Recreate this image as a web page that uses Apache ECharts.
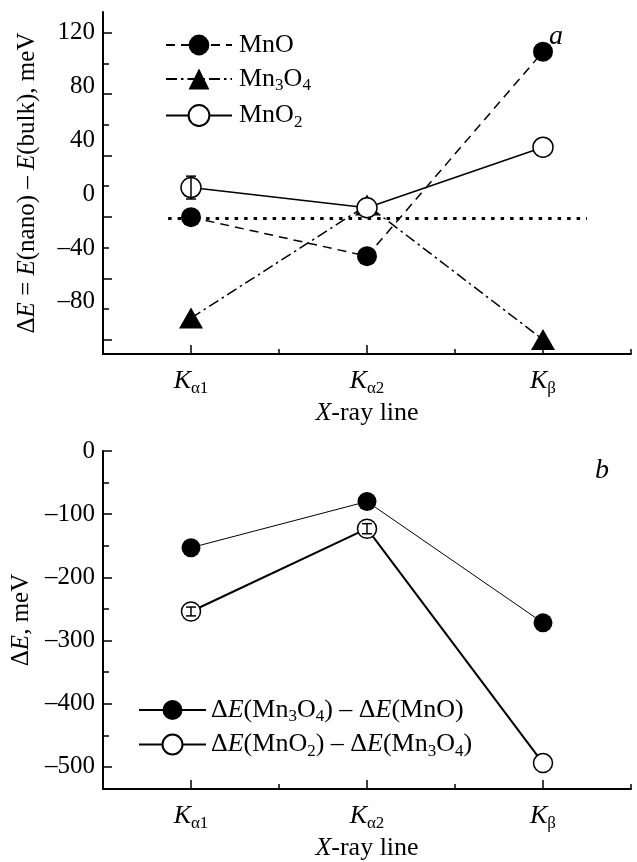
<!DOCTYPE html>
<html>
<head>
<meta charset="utf-8">
<script src="https://cdn.jsdelivr.net/npm/echarts@6/dist/echarts.min.js"></script>
<style>
  html, body { margin: 0; padding: 0; background: #fff; }
  #chart { width: 637px; height: 862px; }
</style>
</head>
<body>
<div id="chart"></div>
<script>
// X-ray lines (subscripts of K)
const lines = ['α1', 'α2', 'β'];
const xPos = [1, 2, 3];

// panel a: dE = E(nano) - E(bulk), meV
const mnoA = [-17, -46, 106];
const mn3o4A = [-92, -8, -108];
const mno2A = [5, -10, 35];
const mno2AErr = [8.5, 0, 0];
const refLevel = -18;
const refSpan = [0.87, 3.25];

// panel b: differences, meV
const diff1 = [-153, -80, -272]; // dE(Mn3O4) - dE(MnO)
const diff2 = [-254, -123, -494]; // dE(MnO2) - dE(Mn3O4)
const diff2Err = [7, 8, 0];

// axis labels / ticks
const aLabels = [-80, -40, 0, 40, 80, 120];
const aTicksLong = [120, 74.4, 28.8, -16.8, -62.4, -108];
const aTicksShort = [97.2, 51.6, 6, -39.6, -85.2];
const bLabels = [0, -100, -200, -300, -400, -500];
const bTicksShort = [-50, -150, -250, -350, -450];
const xTicksLong = [1, 2, 3];
const xTicksShort = [1.5, 2.5, 3.5];

const FONT = '"Liberation Serif", "DejaVu Serif", serif';
const rich = {
  n: { fontFamily: FONT, fontSize: 26, color: '#000' },
  i: { fontFamily: FONT, fontSize: 26, color: '#000', fontStyle: 'italic' },
  s: { fontFamily: FONT, fontSize: 17, color: '#000', padding: [14, 0, 0, 0] }
};
const richTitle = {
  n: { fontFamily: FONT, fontSize: 25, color: '#000' },
  i: { fontFamily: FONT, fontSize: 25, color: '#000', fontStyle: 'italic' }
};

const pairs = (vals) => vals.map((v, i) => [xPos[i], v]);
const errPairs = (vals, err) => vals.map((v, i) => [xPos[i], v, err[i]]).filter(d => d[2] > 0);
const minus = v => (v < 0 ? '–' + Math.abs(v) : '' + v);

const legendText = {
  'MnO': '{n|MnO}',
  'Mn3O4': '{n|Mn}{s|3}{n|O}{s|4}',
  'MnO2': '{n|MnO}{s|2}',
  'd1': '{n|Δ}{i|E}{n|(Mn}{s|3}{n|O}{s|4}{n|) – Δ}{i|E}{n|(MnO)}',
  'd2': '{n|Δ}{i|E}{n|(MnO}{s|2}{n|) – Δ}{i|E}{n|(Mn}{s|3}{n|O}{s|4}{n|)}'
};

function xAxisMain(grid) {
  return {
    type: 'value', gridIndex: grid, min: 0.5, max: 3.5,
    name: '{i|X}{n|-ray line}', nameLocation: 'middle', nameGap: 46,
    nameTextStyle: { rich: rich },
    axisLine: { onZero: false, lineStyle: { color: '#000', width: 2 } },
    axisTick: { inside: true, length: 9, lineStyle: { color: '#000', width: 1.5 }, customValues: xTicksLong },
    axisLabel: {
      customValues: xTicksLong, margin: 12,
      formatter: v => '{i|K}{s|' + lines[Math.round(v) - 1] + '}',
      rich: rich
    },
    splitLine: { show: false }
  };
}
function xAxisMinor(grid) {
  return {
    type: 'value', gridIndex: grid, min: 0.5, max: 3.5, position: 'bottom',
    axisLine: { show: false, onZero: false },
    axisTick: { inside: true, length: 5, lineStyle: { color: '#000', width: 1.5 }, customValues: xTicksShort },
    axisLabel: { show: false }, splitLine: { show: false }
  };
}

function errorSeries(xi, yi, data) {
  return {
    type: 'custom', xAxisIndex: xi, yAxisIndex: yi, z: 5, silent: true,
    data: data,
    renderItem: (params, api) => {
      const x = api.value(0), y = api.value(1), e = api.value(2);
      const top = api.coord([x, y + e]);
      const bot = api.coord([x, y - e]);
      const st = { stroke: '#000', lineWidth: 1.5 };
      return {
        type: 'group', children: [
          { type: 'line', shape: { x1: top[0], y1: top[1], x2: bot[0], y2: bot[1] }, style: st },
          { type: 'line', shape: { x1: top[0] - 5, y1: top[1], x2: top[0] + 5, y2: top[1] }, style: st },
          { type: 'line', shape: { x1: bot[0] - 5, y1: bot[1], x2: bot[0] + 5, y2: bot[1] }, style: st }
        ]
      };
    }
  };
}

const filled = { color: '#000' };
const open = { color: '#fff', borderColor: '#000', borderWidth: 1.5 };
const tickLabel = { fontFamily: FONT, fontSize: 25, color: '#000', margin: 8, formatter: minus };
const letter = { fontFamily: FONT, fontSize: 28, fontStyle: 'italic', fontWeight: 'normal', color: '#000' };

const option = {
  backgroundColor: '#fff',
  animation: false,
  title: [
    { text: 'a', left: 544, top: 18, textStyle: letter },
    { text: 'b', left: 590, top: 452, textStyle: letter }
  ],
  grid: [
    { left: 103, top: 12, width: 528, height: 342 },
    { left: 103, top: 451, width: 528, height: 338 }
  ],
  legend: [
    {
      data: ['MnO', 'Mn3O4', 'MnO2'], orient: 'vertical', left: 160, top: 27,
      itemWidth: 66, itemHeight: 26, itemGap: 8,
      formatter: n => legendText[n],
      textStyle: { rich: rich, padding: [0, 0, 0, 2] }
    },
    {
      data: ['d1', 'd2'], orient: 'vertical', left: 133, top: 692,
      itemWidth: 67, itemHeight: 25, itemGap: 6,
      formatter: n => legendText[n],
      textStyle: { rich: rich, padding: [0, 0, 0, 0] }
    }
  ],
  xAxis: [xAxisMain(0), xAxisMinor(0), xAxisMain(1), xAxisMinor(1)],
  yAxis: [
    {
      type: 'value', gridIndex: 0, min: -118.7, max: 135.5,
      name: '{n|Δ}{i|E}{n| = }{i|E}{n|(nano) – }{i|E}{n|(bulk), meV}',
      nameLocation: 'middle', nameGap: 63, nameTextStyle: { rich: richTitle },
      axisLine: { lineStyle: { color: '#000', width: 2 } },
      axisTick: { inside: true, length: 9, lineStyle: { color: '#000', width: 1.5 }, customValues: aTicksLong },
      axisLabel: Object.assign({ customValues: aLabels }, tickLabel),
      splitLine: { show: false }
    },
    {
      type: 'value', gridIndex: 0, min: -118.7, max: 135.5, position: 'left',
      axisLine: { show: false },
      axisTick: { inside: true, length: 6, lineStyle: { color: '#000', width: 1.5 }, customValues: aTicksShort },
      axisLabel: { show: false }, splitLine: { show: false }
    },
    {
      type: 'value', gridIndex: 1, min: -535, max: 0,
      name: '{n|Δ}{i|E}{n|, meV}',
      nameLocation: 'middle', nameGap: 63, nameTextStyle: { rich: richTitle },
      axisLine: { lineStyle: { color: '#000', width: 2 } },
      axisTick: { inside: true, length: 9, lineStyle: { color: '#000', width: 1.5 }, customValues: bLabels },
      axisLabel: Object.assign({ customValues: bLabels }, tickLabel),
      splitLine: { show: false }
    },
    {
      type: 'value', gridIndex: 1, min: -535, max: 0, position: 'left',
      axisLine: { show: false },
      axisTick: { inside: true, length: 6, lineStyle: { color: '#000', width: 1.5 }, customValues: bTicksShort },
      axisLabel: { show: false }, splitLine: { show: false }
    }
  ],
  series: [
    {
      type: 'line', xAxisIndex: 0, yAxisIndex: 0, silent: true, symbol: 'none', z: 1,
      data: refSpan.map(x => [x, refLevel]),
      lineStyle: { color: '#000', width: 3, type: [3.5, 6], cap: 'butt' }
    },
    {
      name: 'MnO', type: 'line', xAxisIndex: 0, yAxisIndex: 0, data: pairs(mnoA),
      symbol: 'circle', symbolSize: 20, itemStyle: filled,
      lineStyle: { color: '#000', width: 1.5, type: [9, 6] }
    },
    {
      name: 'Mn3O4', type: 'line', xAxisIndex: 0, yAxisIndex: 0, data: pairs(mn3o4A),
      symbol: 'triangle', symbolSize: [24, 21], itemStyle: filled,
      lineStyle: { color: '#000', width: 1.5, type: [11, 4, 2.5, 4] }
    },
    {
      name: 'MnO2', type: 'line', xAxisIndex: 0, yAxisIndex: 0, data: pairs(mno2A),
      symbol: 'circle', symbolSize: 20, itemStyle: open, z: 3,
      lineStyle: { color: '#000', width: 1.5 }
    },
    errorSeries(0, 0, errPairs(mno2A, mno2AErr)),
    {
      name: 'd1', type: 'line', xAxisIndex: 2, yAxisIndex: 2, data: pairs(diff1),
      symbol: 'circle', symbolSize: 19, itemStyle: filled,
      lineStyle: { color: '#000', width: 1 }
    },
    {
      name: 'd2', type: 'line', xAxisIndex: 2, yAxisIndex: 2, data: pairs(diff2),
      symbol: 'circle', symbolSize: 19, itemStyle: open,
      lineStyle: { color: '#000', width: 2 }
    },
    errorSeries(2, 2, errPairs(diff2, diff2Err))
  ]
};

const chart = echarts.init(document.getElementById('chart'), null, { renderer: 'canvas' });
chart.setOption(option);
</script>
</body>
</html>
